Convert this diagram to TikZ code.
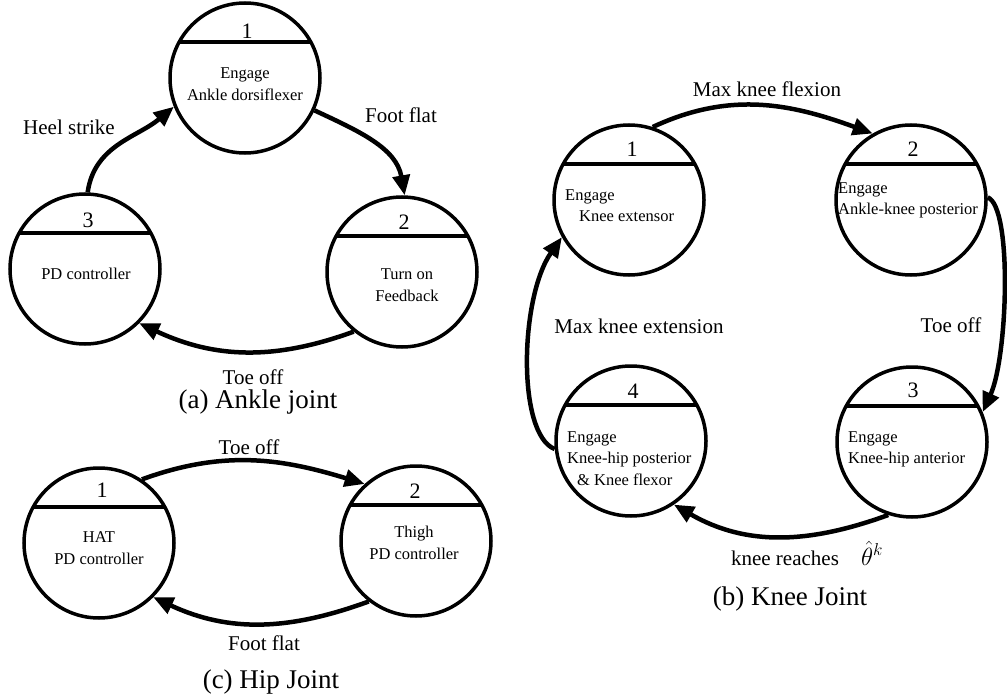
\documentclass[tikz,border=0pt]{standalone}
\usepackage{fontspec}
\setmainfont{Liberation Serif}
\usetikzlibrary{arrows.meta}

\begin{document}
\begin{tikzpicture}[x=1pt, y=1pt,
  state/.style={circle, draw, line width=3.5pt, minimum size=150pt, inner sep=0pt,
    path picture={\draw[line width=3.5pt] ([yshift=36pt]path picture bounding box.center) ++(-80pt,0) -- ++(160pt,0);}},
  num/.style={anchor=base, inner sep=0pt, font=\fontsize{22}{24}\selectfont},
  body/.style={align=center, inner sep=0pt, font=\fontsize{16.5}{21.5}\selectfont},
  lbody/.style={align=left, anchor=north west, inner sep=0pt, font=\fontsize{16.5}{21.5}\selectfont},
  lab/.style={anchor=base, inner sep=0pt, font=\fontsize{21}{24}\selectfont},
  caption/.style={anchor=base, inner sep=0pt, font=\fontsize{27}{30}\selectfont},
  arrow/.style={-{Triangle[length=20pt,width=17pt]}, line width=4.5pt}]

\useasboundingbox (0,0) rectangle (1007,-698);

% (a) ankle
\node[state] (a1) at (245,-78) {};
\node[state] (a2) at (402,-272) {};
\node[state] (a3) at (85,-269) {};
\node[num] (a1n) at (247,-39) {1};
\node[num] (a2n) at (404,-229) {2};
\node[num] (a3n) at (88,-227) {3};
\node[body] (a1t) at (245,-84) {Engage\\Ankle dorsiflexer};
\node[body] (a2t) at (407,-285) {Turn on\\Feedback};
\node[body] (a3t) at (86,-274) {PD controller};

\draw[arrow] (a3.88) to[out=82,in=220] (a1.202);
\draw[arrow] (a1.335) to[out=-25,in=100] (a2.88);
\draw[arrow] (a2.231) to[out=200,in=-25] (a3.315);

\node[lab] (heel) at (69,-135) {Heel strike};
\node[lab] (aff) at (401,-123) {Foot flat};
\node[lab] (ato) at (253,-384) {Toe off};
\node[caption] (capa) at (258,-408) {(a) Ankle joint};

% (c) hip
\node[state] (h1) at (99,-543) {};
\node[state] (h2) at (416,-541) {};
\node[num] (h1n) at (102,-497) {1};
\node[num] (h2n) at (415,-498) {2};
\node[body] (h1t) at (99,-548) {HAT\\PD controller};
\node[body] (h2t) at (414,-543) {Thigh\\PD controller};

\draw[arrow] (h1.56) to[out=20,in=163] (h2.132);
\draw[arrow] (h2.232) to[out=200,in=-25] (h1.315);

\node[lab] (hto) at (249,-454) {Toe off};
\node[lab] (hff) at (264,-650) {Foot flat};
\node[caption] (capc) at (271,-688) {(c) Hip Joint};

% (b) knee
\node[state] (k1) at (629,-200) {};
\node[state] (k2) at (911,-200) {};
\node[state] (k3) at (912,-442) {};
\node[state] (k4) at (631,-441) {};
\node[num] (k1n) at (632,-157) {1};
\node[num] (k2n) at (913,-157) {2};
\node[num] (k3n) at (913,-397) {3};
\node[num] (k4n) at (633,-398) {4};
\node[lbody] (k1t) at (565,-189) {Engage\\\hspace*{14pt}Knee extensor};
\node[lbody] (k2t) at (838,-182) {Engage\\Ankle-knee posterior};
\node[lbody] (k3t) at (848,-431) {Engage\\Knee-hip anterior};
\node[lbody] (k4t) at (567,-431) {Engage\\Knee-hip posterior\\\hspace*{10pt}\& Knee flexor};

\draw[arrow] (k1.72) to[out=25,in=160] (k2.120);
\draw[arrow] (k2.2) .. controls +(25,-10) and +(25,55) .. (k3.23);
\draw[arrow] (k3.252) to[out=200,in=-30] (k4.304);
\draw[arrow] (k4.186) .. controls +(-38,15) and +(-42,-60) .. (k1.209);

\node[lab] (kfl) at (767,-97) {Max knee flexion};
\node[lab] (kto) at (951,-332) {Toe off};
\node[lab] (kext) at (639,-333) {Max knee extension};
\node[lab] (kre) at (785,-565) {knee reaches};
\node[lab, font=\fontsize{26}{28}\selectfont] (kth) at (872,-565) {$\hat{\theta}^{k}$};
\node[caption] (capb) at (790,-605) {(b) Knee Joint};
\end{tikzpicture}
\end{document}
